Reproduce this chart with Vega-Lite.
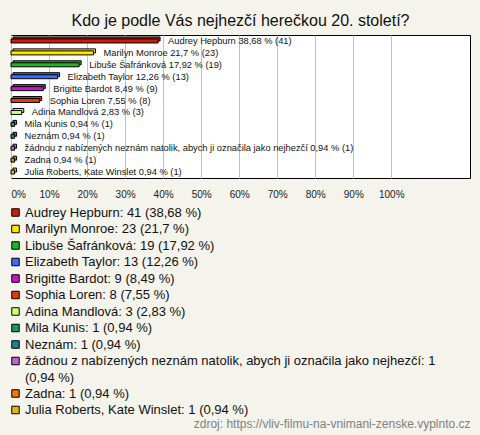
{
  "$schema": "https://vega.github.io/schema/vega-lite/v6.json",
  "width": 459,
  "height": 143,
  "autosize": {"type": "none"},
  "padding": {"left": 11, "top": 35, "right": 10, "bottom": 257},
  "background": "#f4f3ec",
  "title": {"text": "Kdo je podle Vás nejhezčí herečkou 20. století?", "anchor": "middle", "fontSize": 16, "font": "Liberation Sans", "fontWeight": "normal", "color": "#111", "offset": 6},
  "config": {
    "view": {"stroke": "#000", "strokeWidth": 1, "fill": "white"},
    "style": {"guide-label": {"lineHeight": 16.5}}
  },
  "data": {"values": [
    {"name": "Audrey Hepburn", "pct": 38.68, "label": "Audrey Hepburn 38,68 % (41)", "entry": "Audrey Hepburn: 41 (38,68 %)"},
    {"name": "Marilyn Monroe", "pct": 21.7, "label": "Marilyn Monroe 21,7 % (23)", "entry": "Marilyn Monroe: 23 (21,7 %)"},
    {"name": "Libuše Šafránková", "pct": 17.92, "label": "Libuše Šafránková 17,92 % (19)", "entry": "Libuše Šafránková: 19 (17,92 %)"},
    {"name": "Elizabeth Taylor", "pct": 12.26, "label": "Elizabeth Taylor 12,26 % (13)", "entry": "Elizabeth Taylor: 13 (12,26 %)"},
    {"name": "Brigitte Bardot", "pct": 8.49, "label": "Brigitte Bardot 8,49 % (9)", "entry": "Brigitte Bardot: 9 (8,49 %)"},
    {"name": "Sophia Loren", "pct": 7.55, "label": "Sophia Loren 7,55 % (8)", "entry": "Sophia Loren: 8 (7,55 %)"},
    {"name": "Adina Mandlová", "pct": 2.83, "label": "Adina Mandlová 2,83 % (3)", "entry": "Adina Mandlová: 3 (2,83 %)"},
    {"name": "Mila Kunis", "pct": 0.94, "label": "Mila Kunis 0,94 % (1)", "entry": "Mila Kunis: 1 (0,94 %)"},
    {"name": "Neznám", "pct": 0.94, "label": "Neznám 0,94 % (1)", "entry": "Neznám: 1 (0,94 %)"},
    {"name": "žádnou z nabízených neznám natolik, abych ji označila jako nejhezčí", "pct": 0.94, "label": "žádnou z nabízených neznám natolik, abych ji označila jako nejhezčí 0,94 % (1)", "entry": "žádnou z nabízených neznám natolik, abych ji označila jako nejhezčí: 1|(0,94 %)"},
    {"name": "Zadna", "pct": 0.94, "label": "Zadna 0,94 % (1)", "entry": "Zadna: 1 (0,94 %)"},
    {"name": "Julia Roberts, Kate Winslet", "pct": 0.94, "label": "Julia Roberts, Kate Winslet 0,94 % (1)", "entry": "Julia Roberts, Kate Winslet: 1 (0,94 %)"}
  ]},
  "encoding": {
    "y": {"field": "name", "type": "nominal", "sort": null, "axis": null, "scale": {"paddingInner": 0.5, "paddingOuter": 0.25}},
    "x": {
      "field": "pct", "type": "quantitative",
      "scale": {"domain": [0, 120.7], "nice": false, "zero": true},
      "axis": {
        "values": [0, 10, 20, 30, 40, 50, 60, 70, 80, 90, 100],
        "labelExpr": "datum.value + '%'",
        "grid": true, "gridColor": "#c0c0c0", "gridWidth": 1,
        "domain": false, "ticks": false, "tickSize": 0,
        "labelPadding": 11, "labelFontSize": 10, "labelFont": "Liberation Sans", "labelColor": "#222", "labelFlush": true,
        "title": "zdroj: https://vliv-filmu-na-vnimani-zenske.vyplnto.cz",
        "titleX": 459, "titleY": 245, "titleAlign": "right", "titleAnchor": "end", "titleBaseline": "middle",
        "titleFontSize": 12, "titleFontWeight": "normal", "titleColor": "#808080", "titleFont": "Liberation Sans"
      }
    }
  },
  "layer": [
    {
      "mark": {"type": "bar", "yOffset": -2, "xOffset": 2, "stroke": "#000", "strokeWidth": 1, "size": 4, "opacity": 1},
      "encoding": {
        "color": {
          "field": "entry", "type": "nominal", "sort": null,
          "scale": {"range": ["#c81e0a", "#ffe500", "#22b522", "#3d6bf5", "#c418c8", "#e03c0a", "#ccff77", "#179966", "#1f8090", "#c065c8", "#e87814", "#e8b40a"]},
          "legend": {
            "orient": "none", "legendX": -2, "legendY": 171, "title": null, "padding": 0,
            "direction": "vertical", "columns": 1,
            "symbolType": "square", "symbolSize": 56, "symbolStrokeColor": "#000", "symbolStrokeWidth": 1, "symbolOpacity": 1,
            "labelFontSize": 13, "labelFont": "Liberation Sans", "labelColor": "#111", "labelLimit": 600, "labelOffset": 3,
            "rowPadding": 2.5,
            "labelExpr": "split(datum.label, '|')"
          }
        }
      }
    },
    {
      "mark": {"type": "bar", "stroke": "#000", "strokeWidth": 1, "size": 4, "opacity": 1},
      "encoding": {"color": {"field": "entry", "type": "nominal", "sort": null, "legend": null}}
    },
    {
      "mark": {"type": "text", "align": "left", "baseline": "middle", "dx": 10, "fontSize": 9.3, "font": "Liberation Sans", "color": "#111"},
      "encoding": {"text": {"field": "label"}}
    }
  ]
}
